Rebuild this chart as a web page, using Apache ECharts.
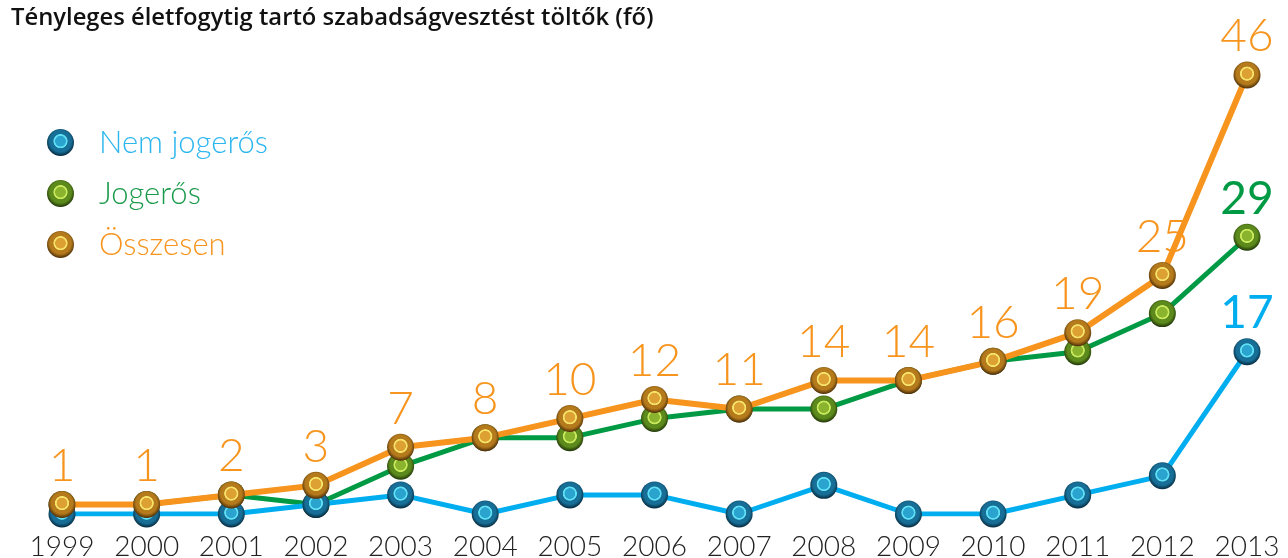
<!DOCTYPE html>
<html><head><meta charset="utf-8">
<script src="https://cdn.jsdelivr.net/npm/echarts@6/dist/echarts.min.js"></script>
<style>html,body{margin:0;padding:0;background:#fff}#c{width:1288px;height:558px}</style>
</head><body><div id="c"></div>
<script>
const categories = ['1999','2000','2001','2002','2003','2004','2005','2006','2007','2008','2009','2010','2011','2012','2013'];
const nemJogeros = [0,0,0,1,2,0,2,2,0,3,0,0,2,4,17];
const jogeros    = [1,1,2,1,5,8,8,10,11,11,14,16,17,21,29];
const osszesen   = [1,1,2,3,7,8,10,12,11,14,14,16,19,25,46];
const seriesNames = ['Nem jogerős','Jogerős','Összesen'];

function sphere(inner, ring, mid, dark){
  return {type:'radial', x:0.5, y:0.45, r:0.55, colorStops:[
    {offset:0, color:inner},{offset:0.34, color:inner},{offset:0.38, color:ring},
    {offset:0.45, color:ring},{offset:0.5, color:mid},{offset:0.72, color:mid},{offset:1, color:dark}]};
}
const blueC = '#00aeef', greenC = '#009a44', orangeC = '#f7941d';
const blueS = sphere('#2aa3cf','#5fe0f5','#176f97','#06283c');
const greenS = sphere('#8ab32e','#c9ea5c','#5c8a1c','#1f3308');
const orangeS = sphere('#dca033','#f6e36a','#b47a1c','#4a2d08');

const labelFont = {fontFamily:'Lato', fontWeight:300, fontSize:46};
function lastOnly(arr, color){
  return arr.map((v,i)=> i===arr.length-1 ? {value:v, label:{show:true, color:color, ...labelFont, fontWeight:400, position:'top', distance:2}} : v);
}

const chart = echarts.init(document.getElementById('c'));
chart.setOption({
  animation:false,
  title:{text:'Tényleges életfogytig tartó szabadságvesztést töltők (fő)', left:6, top:1,
    textStyle:{fontFamily:'Open Sans', fontWeight:600, fontSize:23.8, color:'#111'}},
  legend:{orient:'vertical', left:42, top:122, itemGap:20, itemWidth:27, itemHeight:27, icon:'circle',
    textStyle:{fontFamily:'Lato', fontWeight:300, fontSize:31, padding:[0,0,0,20]},
    data:[{name:seriesNames[0], textStyle:{color:'#2bb6ee'}},{name:seriesNames[1], textStyle:{color:'#1a9a4a'}},{name:seriesNames[2], textStyle:{color:'#f7941d'}}]},
  grid:{left:62, right:41, top:75, bottom:44, outerBoundsMode:'none', containLabel:false},
  xAxis:{type:'category', data:categories, boundaryGap:false,
    axisLine:{show:false}, axisTick:{show:false},
    axisLabel:{interval:0, hideOverlap:false, margin:19, color:'#222', fontFamily:'Lato', fontWeight:300, fontSize:28}},
  yAxis:{type:'value', min:0, max:46, show:false, splitLine:{show:false}},
  series:[
    {name:seriesNames[0], type:'line', data:lastOnly(nemJogeros, blueC), z:3, symbol:'circle', symbolSize:27,
      lineStyle:{color:blueC, width:5}, itemStyle:{color:blueS}, label:{show:false}},
    {name:seriesNames[1], type:'line', data:lastOnly(jogeros, greenC), z:2, symbol:'circle', symbolSize:27,
      lineStyle:{color:greenC, width:5}, itemStyle:{color:greenS}, label:{show:false}},
    {name:seriesNames[2], type:'line', data:osszesen, z:4, symbol:'circle', symbolSize:27,
      lineStyle:{color:orangeC, width:6}, itemStyle:{color:orangeS},
      label:{show:true, position:'top', distance:2, color:orangeC, ...labelFont}}
  ]
});
</script></body></html>
